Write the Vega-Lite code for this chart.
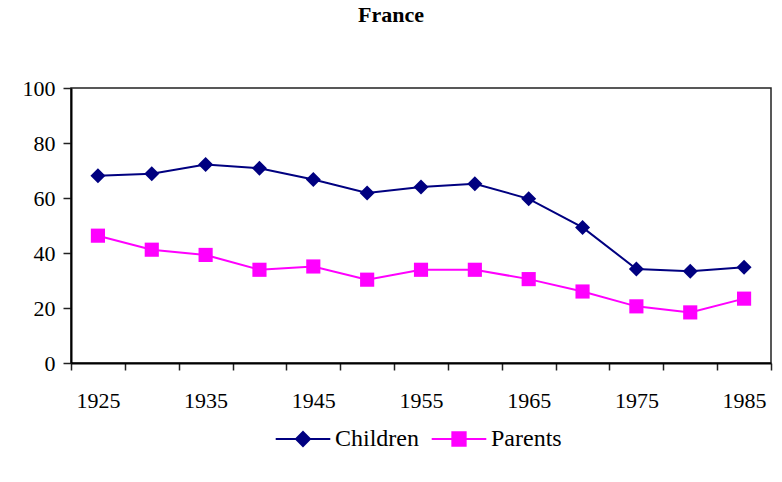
{
  "$schema": "https://vega.github.io/schema/vega-lite/v6.json",
  "width": 700,
  "height": 275,
  "autosize": {"type": "none"},
  "padding": {"left": 71, "top": 88, "right": 11, "bottom": 119},
  "background": "white",
  "config": {
    "view": {"stroke": "#222", "strokeWidth": 1.5},
    "font": "Liberation Serif",
    "legend": {"labelFont": "Liberation Serif", "labelFontSize": 24, "labelColor": "black"}
  },
  "title": {
    "text": "France",
    "font": "Liberation Serif",
    "fontSize": 22,
    "fontWeight": "bold",
    "color": "black",
    "anchor": "middle",
    "frame": "group",
    "dx": -30,
    "offset": 50
  },
  "data": {
    "values": [
      {"year": 1925, "series": "Children", "value": 68.1},
      {"year": 1930, "series": "Children", "value": 68.8},
      {"year": 1935, "series": "Children", "value": 72.2},
      {"year": 1940, "series": "Children", "value": 70.8},
      {"year": 1945, "series": "Children", "value": 66.7},
      {"year": 1950, "series": "Children", "value": 61.8},
      {"year": 1955, "series": "Children", "value": 64.0},
      {"year": 1960, "series": "Children", "value": 65.2},
      {"year": 1965, "series": "Children", "value": 59.7},
      {"year": 1970, "series": "Children", "value": 49.3},
      {"year": 1975, "series": "Children", "value": 34.2},
      {"year": 1980, "series": "Children", "value": 33.4},
      {"year": 1985, "series": "Children", "value": 34.8},
      {"year": 1925, "series": "Parents", "value": 46.3},
      {"year": 1930, "series": "Parents", "value": 41.2},
      {"year": 1935, "series": "Parents", "value": 39.3},
      {"year": 1940, "series": "Parents", "value": 33.9},
      {"year": 1945, "series": "Parents", "value": 35.1},
      {"year": 1950, "series": "Parents", "value": 30.3},
      {"year": 1955, "series": "Parents", "value": 33.9},
      {"year": 1960, "series": "Parents", "value": 33.9},
      {"year": 1965, "series": "Parents", "value": 30.5},
      {"year": 1970, "series": "Parents", "value": 26.0},
      {"year": 1975, "series": "Parents", "value": 20.6},
      {"year": 1980, "series": "Parents", "value": 18.4},
      {"year": 1985, "series": "Parents", "value": 23.4}
    ]
  },
  "encoding": {
    "x": {
      "field": "year",
      "type": "quantitative",
      "scale": {"domain": [1922.5, 1987.5], "nice": false, "zero": false},
      "axis": {
        "title": null,
        "grid": false,
        "values": [1922.5, 1925, 1927.5, 1932.5, 1935, 1937.5, 1942.5, 1945, 1947.5, 1952.5, 1955, 1957.5, 1962.5, 1965, 1967.5, 1972.5, 1975, 1977.5, 1982.5, 1985, 1987.5],
        "labelExpr": "datum.value % 10 == 5 ? '' + datum.value : ''",
        "labelOverlap": false,
        "labelFlush": false,
        "labelFont": "Liberation Serif",
        "labelFontSize": 22,
        "labelColor": "black",
        "labelPadding": 20,
        "labelBaseline": "top",
        "tickSize": 7,
        "tickColor": "#222",
        "tickWidth": 1.5,
        "tickOpacity": {"condition": {"test": "datum.value % 5 == 0", "value": 0}, "value": 1},
        "domainColor": "black",
        "domainWidth": 2
      }
    },
    "y": {
      "field": "value",
      "type": "quantitative",
      "scale": {"domain": [0, 100], "nice": false},
      "axis": {
        "title": null,
        "grid": false,
        "values": [0, 20, 40, 60, 80, 100],
        "labelFont": "Liberation Serif",
        "labelFontSize": 22,
        "labelColor": "black",
        "labelPadding": 8,
        "tickSize": 8,
        "tickColor": "#222",
        "tickWidth": 1.5,
        "domainColor": "black",
        "domainWidth": 2
      }
    },
    "color": {
      "field": "series",
      "type": "nominal",
      "scale": {"domain": ["Children", "Parents"], "range": ["#000080", "#FF00FF"]},
      "legend": {
        "title": null,
        "orient": "none",
        "direction": "horizontal",
        "legendX": 220,
        "legendY": 339,
        "padding": 0,
        "symbolSize": 196,
        "symbolStrokeWidth": 2,
        "labelFont": "Liberation Serif",
        "labelFontSize": 24,
        "labelColor": "black",
        "labelOffset": 20,
        "columnPadding": 8,
        "encode": {
          "labels": {
            "update": {
              "font": {"value": "Liberation Serif"},
              "fontSize": {"value": 24},
              "fill": {"value": "black"}
            }
          },
          "symbols": {
            "update": {
              "shape": {"signal": "datum.value == 'Children' ? 'M-3.9,0L3.9,0M0,-1L1,0L0,1L-1,0Z' : 'M-3.9,0L3.9,0M-0.95,-0.95L0.95,-0.95L0.95,0.95L-0.95,0.95Z'"},
              "fill": {"signal": "datum.value == 'Children' ? '#000080' : '#FF00FF'"},
              "stroke": {"signal": "datum.value == 'Children' ? '#000080' : '#FF00FF'"},
              "strokeWidth": {"value": 2},
              "opacity": {"value": 1},
              "fillOpacity": {"value": 1},
              "strokeOpacity": {"value": 1}
            }
          }
        }
      }
    }
  },
  "layer": [
    {
      "mark": {"type": "line", "strokeWidth": 2}
    },
    {
      "transform": [{"filter": "datum.series == 'Children'"}],
      "mark": {"type": "point", "shape": "diamond", "filled": true, "opacity": 1, "size": 225}
    },
    {
      "transform": [{"filter": "datum.series == 'Parents'"}],
      "mark": {"type": "point", "shape": "square", "filled": true, "opacity": 1, "size": 200}
    }
  ]
}
